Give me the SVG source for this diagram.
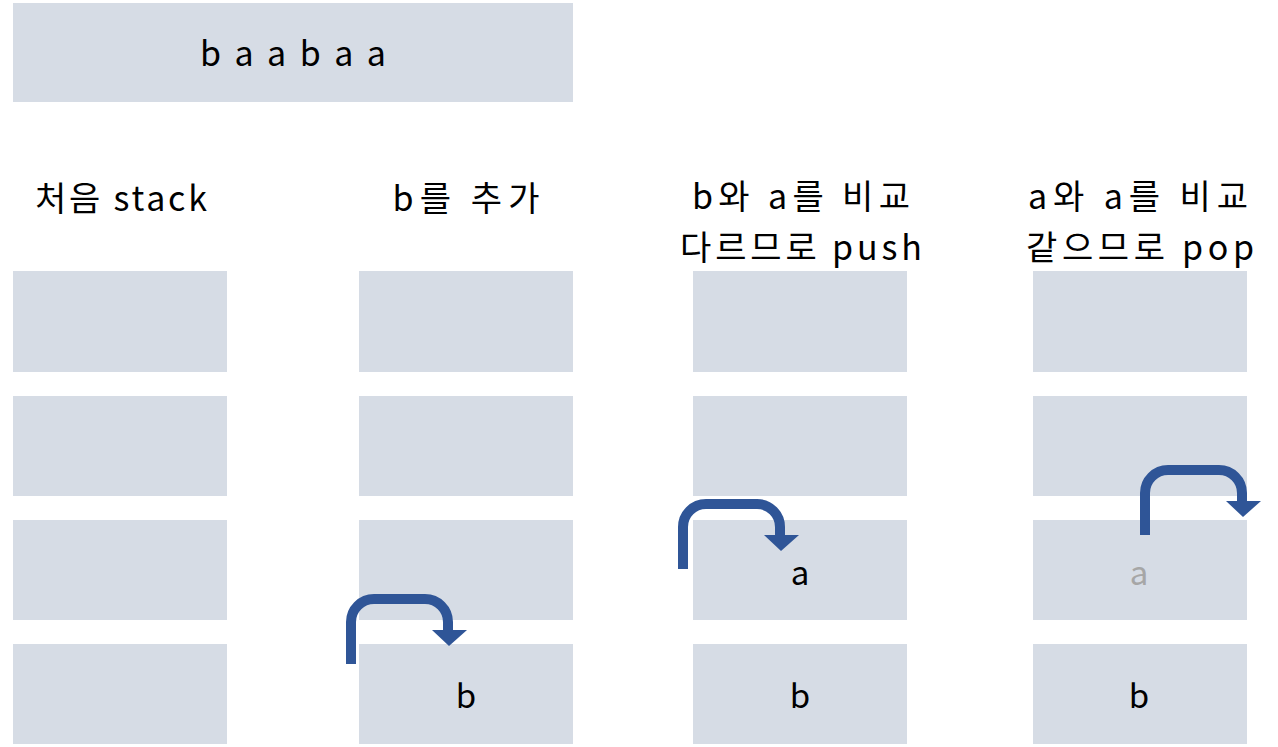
<svg xmlns="http://www.w3.org/2000/svg" width="1278" height="747" viewBox="0 0 1278 747">
<style>
.box{fill:#D6DCE5}
.t{font-family:"Noto Sans CJK KR","Noto Sans",sans-serif;font-size:33px;fill:#000;text-anchor:middle}
.l{font-size:34px}
.g{fill:#A6A6A6}
.arr{fill:none;stroke:#2F5597;stroke-width:10}
.head{fill:#2F5597}
</style>
<defs>
<g id="hook">
<path class="arr" d="M351,664 V622 A23,23 0 0 1 374,599 H425 A23,23 0 0 1 448,622 V631"/>
<polygon class="head" points="432,630 467,630 449,646"/>
</g>
</defs>
<rect width="1278" height="747" fill="#fff"/>
<g id="input"><rect class="box" x="13" y="3" width="560" height="99"/><text class="t l" x="293" y="66" textLength="186" lengthAdjust="spacing">b a a b a a</text></g>
<g id="col1">
<text class="t l" x="121" y="211" textLength="172" lengthAdjust="spacing">처음 stack</text>
<rect class="box" x="13" y="271" width="214" height="101"/>
<rect class="box" x="13" y="396" width="214" height="100"/>
<rect class="box" x="13" y="520" width="214" height="100"/>
<rect class="box" x="13" y="644" width="214" height="100"/>
</g>
<g id="col2">
<text class="t l" x="466" y="211" textLength="147" lengthAdjust="spacing">b를 추가</text>
<rect class="box" x="359" y="271" width="214" height="101"/>
<rect class="box" x="359" y="396" width="214" height="100"/>
<rect class="box" x="359" y="520" width="214" height="100"/>
<rect class="box" x="359" y="644" width="214" height="100"/>
<text class="t" x="466" y="708">b</text>
</g>
<g id="col3">
<text class="t l"><tspan x="801" y="209" textLength="218" lengthAdjust="spacing">b와 a를 비교</tspan><tspan x="801" y="260" textLength="242" lengthAdjust="spacing">다르므로 push</tspan></text>
<rect class="box" x="693" y="271" width="214" height="101"/>
<rect class="box" x="693" y="396" width="214" height="100"/>
<rect class="box" x="693" y="520" width="214" height="100"/>
<rect class="box" x="693" y="644" width="214" height="100"/>
<text class="t" x="800" y="585">a</text>
<text class="t" x="800" y="708">b</text>
</g>
<g id="col4">
<text class="t l"><tspan x="1138" y="209" textLength="220" lengthAdjust="spacing">a와 a를 비교</tspan><tspan x="1140" y="260" textLength="228" lengthAdjust="spacing">같으므로 pop</tspan></text>
<rect class="box" x="1033" y="271" width="214" height="101"/>
<rect class="box" x="1033" y="396" width="214" height="100"/>
<rect class="box" x="1033" y="520" width="214" height="100"/>
<rect class="box" x="1033" y="644" width="214" height="100"/>
<text class="t g" x="1139" y="585">a</text>
<text class="t" x="1139" y="708">b</text>
</g>
<g id="connectors">
<use href="#hook"/>
<use href="#hook" transform="translate(332,-95)"/>
<use href="#hook" transform="translate(794,-129)"/>
</g>
</svg>
